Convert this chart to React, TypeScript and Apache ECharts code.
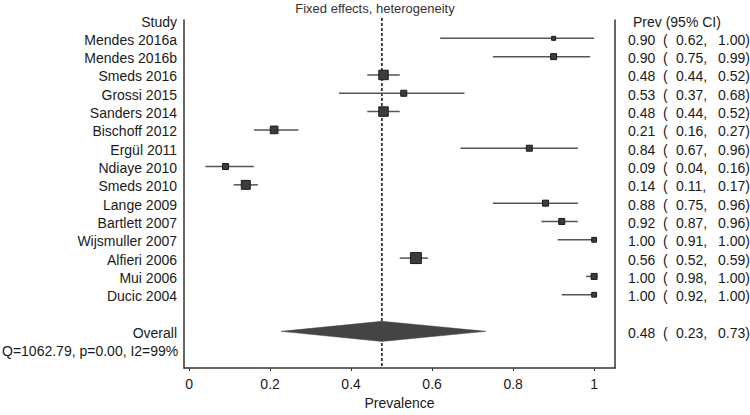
import React, { useEffect, useRef } from "react";
import * as echarts from "echarts";

// ---- data ----
const studies = [
  "Mendes 2016a", "Mendes 2016b", "Smeds 2016", "Grossi 2015", "Sanders 2014",
  "Bischoff 2012", "Ergül 2011", "Ndiaye 2010", "Smeds 2010", "Lange 2009",
  "Bartlett 2007", "Wijsmuller 2007", "Alfieri 2006", "Mui 2006", "Ducic 2004",
];
const prev = [0.90, 0.90, 0.48, 0.53, 0.48, 0.21, 0.84, 0.09, 0.14, 0.88, 0.92, 1.00, 0.56, 1.00, 1.00];
const lower = [0.62, 0.75, 0.44, 0.37, 0.44, 0.16, 0.67, 0.04, 0.11, 0.75, 0.87, 0.91, 0.52, 0.98, 0.92];
const upper = [1.00, 0.99, 0.52, 0.68, 0.52, 0.27, 0.96, 0.16, 0.17, 0.96, 0.96, 1.00, 0.59, 1.00, 1.00];
// relative study weights (box area)
const weights = [1, 4, 14, 4, 14, 8, 4, 4, 12, 4, 4, 2, 20, 4, 2];

const overallPrev = 0.476;
const overallLower = 0.227;
const overallUpper = 0.733;
const hetQ = 1062.79;
const hetP = 0.0;
const hetI2 = 99;

const xTicks = [0, 0.2, 0.4, 0.6, 0.8, 1];

const titleText = "Fixed effects, heterogeneity";
const xName = "Prevalence";
const leftHeader = "Study";
const rightHeader = "Prev (95% CI)";
const overallLabel = "Overall";

export default function App() {
  const ref = useRef<HTMLDivElement>(null);
  useEffect(() => {
    const chart = echarts.init(ref.current!, null, { renderer: "svg" });
    const FONT = '"Liberation Sans", Arial, sans-serif';
    const TXT = "#1a1a1a";
    const hetText = `Q=${hetQ.toFixed(2)}, p=${hetP.toFixed(2)}, I2=${hetI2}%`;

    const overallRow = studies.length + 1; // one blank row
    const hetRow = overallRow + 1;

    const leftLabels = [leftHeader, ...studies, overallLabel, hetText];
    const leftRows = [-1, ...studies.map((_, i) => i), overallRow, hetRow];

    const rightEst = [...prev, overallPrev];
    const rightLo = [...lower, overallLower];
    const rightHi = [...upper, overallUpper];
    const rightRows = [...studies.map((_, i) => i), overallRow];

    const txt = (x: number, y: number, text: string, align: string) => ({
      type: "text",
      x,
      y,
      style: {
        text,
        fill: TXT,
        fontSize: 14,
        fontFamily: FONT,
        align,
        verticalAlign: "middle",
      },
    });

    const option: any = {
      animation: false,
      title: {
        text: titleText,
        left: "center",
        top: -3,
        textStyle: { fontSize: 13, fontWeight: "normal", color: "#333", fontFamily: FONT },
      },
      grid: { left: 184, right: 135, top: 20, bottom: 38 },
      xAxis: {
        type: "value",
        min: -0.0125,
        max: 1.0515,
        name: xName,
        nameLocation: "middle",
        nameGap: 28,
        nameTextStyle: { fontSize: 14, color: TXT, fontFamily: FONT },
        axisLine: { show: true, onZero: false, lineStyle: { color: "#333", width: 1.5 } },
        axisTick: { show: true, length: 3, customValues: xTicks, lineStyle: { color: "#333" } },
        axisLabel: {
          customValues: xTicks,
          fontSize: 14,
          color: TXT,
          fontFamily: FONT,
          margin: 9,
          formatter: (v: number) => String(Math.round(v * 10) / 10),
        },
        splitLine: { show: false },
      },
      yAxis: [
        {
          type: "value",
          inverse: true,
          min: -1,
          max: 18,
          axisLine: { show: true, onZero: false, lineStyle: { color: "#333", width: 1.5 } },
          axisTick: { show: false },
          axisLabel: { show: false },
          splitLine: { show: false },
        },
        {
          type: "value",
          inverse: true,
          min: -1,
          max: 18,
          position: "right",
          axisLine: { show: true, onZero: false, lineStyle: { color: "#333", width: 1.5 } },
          axisTick: { show: false },
          axisLabel: { show: false },
          splitLine: { show: false },
        },
      ],
      series: [
        // pooled reference line
        {
          type: "custom",
          clip: false,
          data: [[overallPrev, -1, 18]],
          encode: { x: 0, y: [1, 2] },
          renderItem: (params: any, api: any) => {
            const a = api.coord([api.value(0), api.value(1)]);
            const b = api.coord([api.value(0), api.value(2)]);
            return {
              type: "line",
              shape: { x1: a[0], y1: a[1] - 2, x2: b[0], y2: b[1] },
              style: { stroke: "#222", lineWidth: 1.6, lineDash: [3, 2] },
            };
          },
        },
        // study CIs and boxes
        {
          type: "custom",
          clip: false,
          data: studies.map((_, i) => [prev[i], lower[i], upper[i], i, weights[i]]),
          encode: { x: [0, 1, 2], y: 3 },
          renderItem: (params: any, api: any) => {
            const est = api.value(0);
            const lo = api.value(1);
            const hi = api.value(2);
            const row = api.value(3);
            const w = api.value(4);
            const p0 = api.coord([lo, row]);
            const p1 = api.coord([hi, row]);
            const c = api.coord([est, row]);
            const s = 2 + 2 * Math.sqrt(w);
            return {
              type: "group",
              children: [
                {
                  type: "line",
                  shape: { x1: p0[0], y1: p0[1], x2: p1[0], y2: p1[1] },
                  style: { stroke: "#555", lineWidth: 1.5 },
                },
                {
                  type: "rect",
                  shape: { x: c[0] - s / 2, y: c[1] - s / 2, width: s, height: s },
                  style: { fill: "#3c3c3c", stroke: "#1a1a1a", lineWidth: 1 },
                },
              ],
            };
          },
        },
        // overall diamond
        {
          type: "custom",
          clip: false,
          data: [[overallPrev, overallLower, overallUpper, overallRow]],
          encode: { x: [0, 1, 2], y: 3 },
          renderItem: (params: any, api: any) => {
            const est = api.value(0);
            const lo = api.value(1);
            const hi = api.value(2);
            const row = api.value(3);
            const pts = [
              api.coord([lo, row]),
              api.coord([est, row - 0.55]),
              api.coord([hi, row]),
              api.coord([est, row + 0.55]),
            ];
            return {
              type: "polygon",
              shape: { points: pts },
              style: { fill: "#444", stroke: "#444", lineWidth: 0.5 },
            };
          },
        },
        // left labels
        {
          type: "custom",
          clip: false,
          data: leftRows.map((r) => [0, r]),
          encode: { x: 0, y: 1 },
          renderItem: (params: any, api: any) => {
            const y = api.coord([0, api.value(1)])[1] + 1.5;
            const label = leftLabels[params.dataIndex];
            if (label === hetText) return txt(2, y, label, "left");
            return txt(177, y, label, "right");
          },
        },
        // right column
        {
          type: "custom",
          clip: false,
          data: rightRows.map((r) => [0, r]),
          encode: { x: 0, y: 1 },
          renderItem: (params: any, api: any) => {
            const i = params.dataIndex;
            const y = api.coord([0, api.value(1)])[1] + 1.5;
            return {
              type: "group",
              children: [
                txt(628, y, rightEst[i].toFixed(2), "left"),
                txt(663, y, "(", "left"),
                txt(676, y, rightLo[i].toFixed(2) + ",", "left"),
                txt(718, y, rightHi[i].toFixed(2) + ")", "left"),
              ],
            };
          },
        },
        // right header
        {
          type: "custom",
          clip: false,
          data: [[0, -1]],
          encode: { x: 0, y: 1 },
          renderItem: (params: any, api: any) => {
            const y = api.coord([0, api.value(1)])[1] + 1.5;
            return txt(633, y, rightHeader, "left");
          },
        },
      ],
    };
    chart.setOption(option);
    return () => chart.dispose();
  }, []);
  return (
    <div
      ref={ref}
      style={{ position: "fixed", left: 0, top: 0, width: 750, height: 415, background: "#fff" }}
    />
  );
}
